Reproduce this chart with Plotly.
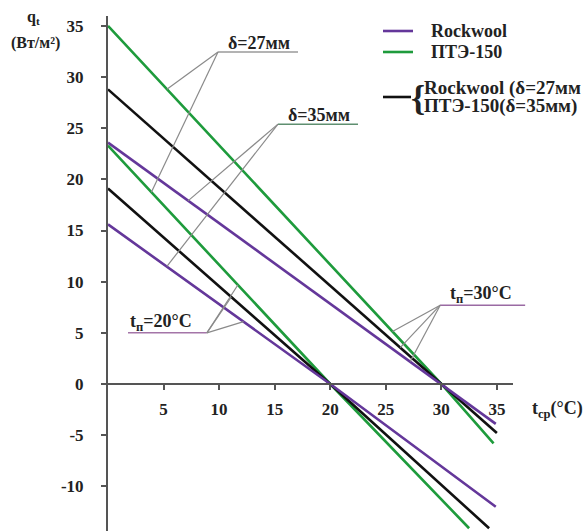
import plotly.graph_objects as go

# Heat flux q_t versus mean temperature t_cp for two surface temperatures
t_rockwool_30 = [0, 30, 34.9]
q_rockwool_30 = [23.6, 0, -3.9]
t_mixed_30 = [0, 30, 35.0]
q_mixed_30 = [28.8, 0, -4.8]
t_pte_30 = [0, 30, 34.7]
q_pte_30 = [35.0, 0, -5.8]

t_rockwool_20 = [0, 20, 34.9]
q_rockwool_20 = [15.6, 0, -12.0]
t_mixed_20 = [0, 20, 34.3]
q_mixed_20 = [19.1, 0, -14.1]
t_pte_20 = [0, 20, 32.5]
q_pte_20 = [23.3, 0, -14.1]

x_ticks = [5, 10, 15, 20, 25, 30, 35]
y_ticks = [-10, -5, 0, 5, 10, 15, 20, 25, 30, 35]
y_tick_text = ["-10", "-5", "0", "5", "10", "15", "20", "25", "30", "35"]

# Callout labels: (text, text centre x, underline x-from, x-to, y, targets on curves, colour)
callouts = [
    ("δ=27мм", 13.6, 9.9, 17.1, 32.45, [(5.3, 28.8), (3.9, 18.75)], "#9a9a9a"),
    ("δ=35мм", 19.0, 15.3, 22.5, 25.4, [(7.2, 17.9), (5.3, 11.5)], "#5f8f70"),
    ("t<sub>п</sub>=20°C", 4.8, 8.9, 1.8, 5.0, [(11.7, 9.7), (11.1, 8.5), (12.2, 6.1)], "#a475a8"),
]
tn30_corner = (29.9, 7.7)
tn30_targets = [(25.6, 5.13), (26.3, 3.55), (27.2, 2.19)]

PURPLE = "#64379a"
GREEN = "#1e9b3c"
BLACK = "#111111"
FONT = "Liberation Serif"
X_MAX = 36.45
Y_MIN, Y_MAX = -14.37, 35.97

fig = go.Figure()
series = [
    (t_pte_30, q_pte_30, GREEN),
    (t_mixed_30, q_mixed_30, BLACK),
    (t_rockwool_30, q_rockwool_30, PURPLE),
    (t_pte_20, q_pte_20, GREEN),
    (t_mixed_20, q_mixed_20, BLACK),
    (t_rockwool_20, q_rockwool_20, PURPLE),
]
for xs, ys, c in series:
    fig.add_trace(go.Scatter(x=xs, y=ys, mode="lines",
                             line=dict(color=c, width=2.6),
                             showlegend=False, hoverinfo="skip"))

shapes = []
annotations = []
lead = dict(color="#8a8a8a", width=1.2)
label_font = dict(family=FONT, size=18, color="#222", weight="bold")

for text, cx, xa, xb, yy, targets, ucol in callouts:
    shapes.append(dict(type="line", xref="x", yref="y", x0=xa, x1=xb, y0=yy, y1=yy,
                       line=dict(color=ucol, width=1.5)))
    for tx, ty in targets:
        shapes.append(dict(type="line", xref="x", yref="y", x0=xa, y0=yy,
                           x1=tx, y1=ty, line=lead))
    annotations.append(dict(x=cx, y=yy, xref="x", yref="y", text=text, showarrow=False,
                            yanchor="bottom", xanchor="center", yshift=-3, font=label_font))

# t_п = 30 °C callout, its underline runs past the axis end
shapes.append(dict(type="line", xref="paper", yref="y", x0=(440 - 108) / 405, x1=1.03,
                   y0=tn30_corner[1], y1=tn30_corner[1], line=dict(color="#9a6aa3", width=1.5)))
for tx, ty in tn30_targets:
    shapes.append(dict(type="line", xref="x", yref="y", x0=tn30_corner[0], y0=tn30_corner[1],
                       x1=tx, y1=ty, line=lead))
annotations.append(dict(x=33.6, y=tn30_corner[1], xref="x", yref="y",
                        text="t<sub>п</sub>=30°C", showarrow=False, yanchor="bottom",
                        yshift=-3, font=label_font))

# Axis titles
bold = dict(family=FONT, size=16, color="#222", weight="bold")
annotations.append(dict(x=-0.185, y=0.997, xref="paper", yref="paper", text="q<sub>t</sub>",
                        showarrow=False, font=bold, xanchor="center", yanchor="middle"))
annotations.append(dict(x=-0.18, y=0.948, xref="paper", yref="paper", text="(Вт/м²)",
                        showarrow=False, font=bold, xanchor="center", yanchor="middle"))
annotations.append(dict(x=1.042, y=0.235, xref="paper", yref="paper", text="t<sub>ср</sub>(°C)",
                        showarrow=False, font=dict(family=FONT, size=18, color="#222", weight="bold"),
                        xanchor="left", yanchor="middle"))


# Legend, built from paper-space glyphs
def px(xpix):
    return (xpix - 108) / 405


def py(ypix):
    return (531 - ypix) / 515


legend_rows = [(PURPLE, 31, "Rockwool"), (GREEN, 52, "ПТЭ-150")]
lfont = dict(family=FONT, size=18, color="#222", weight="bold")
for c, yp, label in legend_rows:
    shapes.append(dict(type="line", xref="paper", yref="paper", x0=px(383), x1=px(413),
                       y0=py(yp), y1=py(yp), line=dict(color=c, width=2.6)))
    annotations.append(dict(x=px(429), y=py(yp), xref="paper", yref="paper", text=label,
                            showarrow=False, xanchor="left", yanchor="middle", font=lfont))
shapes.append(dict(type="line", xref="paper", yref="paper", x0=px(383), x1=px(411),
                   y0=py(97), y1=py(97), line=dict(color=BLACK, width=2.6)))
annotations.append(dict(x=px(409), y=py(98), xref="paper", yref="paper", text="{",
                        showarrow=False, xanchor="left", yanchor="middle",
                        font=dict(family=FONT, size=36, color="#222", weight="bold")))
brace_font = dict(family=FONT, size=19, color="#222", weight="bold")
annotations.append(dict(x=px(422), y=py(88), xref="paper", yref="paper",
                        text="Rockwool (δ=27мм", showarrow=False, xanchor="left",
                        yanchor="middle", font=brace_font))
annotations.append(dict(x=px(422), y=py(106), xref="paper", yref="paper",
                        text="ПТЭ-150(δ=35мм)", showarrow=False, xanchor="left",
                        yanchor="middle", font=brace_font))

axis_font = dict(family=FONT, size=17, color="#222", weight="bold")
fig.update_layout(
    width=586, height=531,
    margin=dict(l=108, r=73, t=16, b=0),
    plot_bgcolor="white", paper_bgcolor="white",
    showlegend=False,
    shapes=shapes, annotations=annotations,
    xaxis=dict(range=[0, X_MAX], tickvals=x_ticks, showgrid=False, zeroline=False,
               showline=True, linecolor="#555", linewidth=2,
               anchor="free", position=(0 - Y_MIN) / (Y_MAX - Y_MIN),
               ticks="outside", ticklen=5, tickwidth=1.5, tickcolor="#555",
               tickfont=axis_font, ticklabelstandoff=5, automargin=False),
    yaxis=dict(range=[Y_MIN, Y_MAX], tickvals=y_ticks, ticktext=y_tick_text,
               showgrid=False, zeroline=False,
               showline=True, linecolor="#555", linewidth=2,
               ticks="outside", ticklen=5, tickwidth=1.5, tickcolor="#555",
               tickfont=axis_font, ticklabelstandoff=14, automargin=False),
)

fig.write_html("out.html")
